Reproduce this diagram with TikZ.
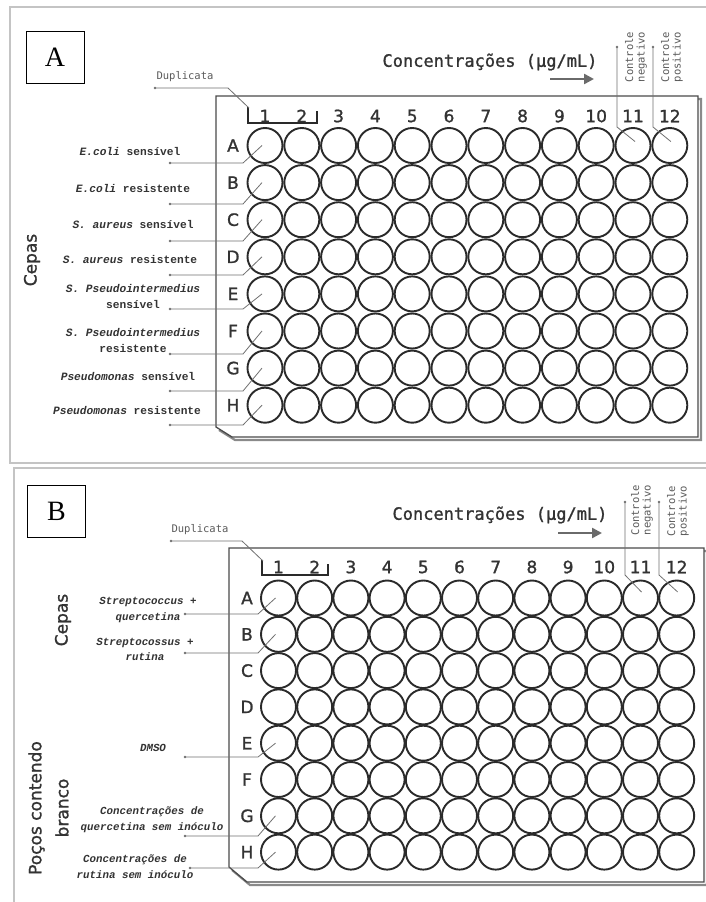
\documentclass[tikz,border=0pt]{standalone}
\usepackage{fontspec}
\setmainfont{Liberation Serif}
\setsansfont{DejaVu Sans}
\setmonofont{DejaVu Sans Mono}
\newfontfamily\lmono{Liberation Mono}
\newfontfamily\msans[BoldFont={DejaVu Sans}, BoldFeatures={FakeBold=1.2}]{DejaVu Sans}
\newfontfamily\mmono[BoldFont={DejaVu Sans Mono}, BoldFeatures={FakeBold=1.2}]{DejaVu Sans Mono}
\usetikzlibrary{calc,arrows.meta}
\definecolor{framegray}{HTML}{C4C4C4}
\definecolor{plategray}{HTML}{4A4A4A}
\definecolor{shadowgray}{HTML}{8A8A8A}
\definecolor{welldark}{HTML}{2A2A2A}
\definecolor{numdark}{HTML}{333333}
\definecolor{leadgray}{HTML}{707070}
\definecolor{labdark}{HTML}{333333}
\definecolor{midgray}{HTML}{5A5A5A}
\definecolor{arrowgray}{HTML}{6A6A6A}
\tikzset{
  frame/.style={draw=framegray, line width=1.6},
  labbox/.style={draw=black, line width=1, minimum width=58, minimum height=52, inner sep=0, font=\fontsize{28}{28}\selectfont},
  plate/.style={draw=plategray, line width=1.3, fill=white},
  plateshadow/.style={draw=shadowgray, line width=2.2},
  well/.style={circle, draw=welldark, line width=1.9, minimum size=35, inner sep=0},
  colnum/.style={font=\msans\bfseries\fontsize{17}{17}\selectfont, text=numdark, inner sep=0},
  leader/.style={draw=leadgray, line width=0.8},
  dotc/.style={circle, fill=leadgray, inner sep=0, minimum size=2.8},
  rowlab/.style={font=\lmono\bfseries\fontsize{11.2}{16}\selectfont, text=labdark, align=center, inner sep=0},
  rowlabB/.style={font=\lmono\bfseries\itshape\fontsize{10.8}{15.5}\selectfont, text=labdark, align=center, inner sep=0},
  smallmono/.style={font=\ttfamily\fontsize{10.5}{11.5}\selectfont, text=midgray, inner sep=0, align=center},
  bigmono/.style={font=\mmono\bfseries\fontsize{17}{17}\selectfont, text=numdark, inner sep=0},
  sidelab/.style={font=\msans\bfseries\fontsize{17}{27}\selectfont, rotate=90, align=center, inner sep=0, text=numdark},
  bracket/.style={draw=welldark, line width=1.8},
  concarrow/.style={draw=arrowgray, line width=2.4, -{Triangle[length=10,width=10]}}
}
\begin{document}
\begin{tikzpicture}[x=1pt,y=-1pt]
\useasboundingbox (0,0) rectangle (706,902);
\clip (0,0) rectangle (706,902);
\fill[white] (0,0) rectangle (706,902);
% ===== panel frames =====
\draw[frame] (10,7) rectangle (720,463);
\draw[frame] (14,468) rectangle (720,915);
\node[labbox] (labA) at (55,57) {A};
\node[labbox] (labB) at (56.5,511) {B};

% ===================== PANEL A =====================
\draw[plateshadow] (219,99) -- (701,99) -- (701,440) -- (235,440) -- (219,430);
\draw[plate] (216,96) -- (698,96) -- (698,437) -- (232,437) -- (216,427) -- cycle;
\foreach \c in {1,...,12}
  \node[colnum] (pa-col-\c) at ({265+36.8*(\c-1)},116) {\c};
\foreach \r/\l in {1/A,2/B,3/C,4/D,5/E,6/F,7/G,8/H}{
  \node[colnum] (pa-let-\l) at (233,{145.5+37.1*(\r-1)}) {\l};
  \foreach \c in {1,...,12}
    \node[well] (pa-\r-\c) at ({265+36.8*(\c-1)},{145.5+37.1*(\r-1)}) {};
}
% duplicata
\draw[bracket] (248,107) -- (248,123) -- (317,123) -- (317,111);
\coordinate (pa-brk) at (249,108);
\node[smallmono] (pa-dup) at (185,77) {Duplicata};
\node[dotc] (pa-dupdot) at (155,88) {};
\draw[leader] (pa-dupdot.center) -- (228,88) -- (pa-brk);
% concentrations
\node[bigmono] (pa-conc) at (490,62) {Concentrações (μg/mL)};
\coordinate (pa-arr1) at (550,79);
\coordinate (pa-arr2) at (594,79);
\draw[concarrow] (pa-arr1) -- (pa-arr2);
% controls
\node[smallmono, rotate=90] (pa-neg) at (636,57) {Controle\\negativo};
\node[smallmono, rotate=90] (pa-pos) at (672,57) {Controle\\positivo};
\node[dotc] (pa-negdot) at (617,47) {};
\node[dotc] (pa-posdot) at (653,47) {};
\draw[leader] (pa-negdot.center) -- (617,127) -- ($(pa-1-11.center)+(2,-4)$);
\draw[leader] (pa-posdot.center) -- (653,127) -- ($(pa-1-12.center)+(1,-4)$);
% row leaders
\foreach \r/\ly in {1/163,2/204,3/241,4/275,5/309,6/354,7/391,8/425}{
  \node[dotc] (pa-d-\r) at (170,\ly) {};
  \draw[leader] (pa-d-\r.center) -- (243,\ly) -- ($(pa-\r-1.center)+(-3,0)$);
}
\node[rowlab] (pa-l1) at (130,151) {\textit{E.coli} sensível};
\node[rowlab] (pa-l2) at (133,188) {\textit{E.coli} resistente};
\node[rowlab] (pa-l3) at (133,224) {\textit{S. aureus} sensível};
\node[rowlab] (pa-l4) at (130,259) {\textit{S. aureus} resistente};
\node[rowlab] (pa-l5) at (133,296.5) {\textit{S. Pseudointermedius}\\sensível};
\node[rowlab] (pa-l6) at (133,340) {\textit{S. Pseudointermedius}\\resistente};
\node[rowlab] (pa-l7) at (128,376) {\textit{Pseudomonas} sensível};
\node[rowlab] (pa-l8) at (127,410) {\textit{Pseudomonas} resistente};
\node[sidelab] (pa-cepas) at (32,260) {Cepas};

% ===================== PANEL B =====================
\draw[plateshadow] (232,551) -- (707,551) -- (707,885) -- (250,885) -- (232,870);
\draw[plate] (229,548) -- (704,548) -- (704,882) -- (247,882) -- (229,867) -- cycle;
\foreach \c in {1,...,12}
  \node[colnum] (pb-col-\c) at ({278.5+36.2*(\c-1)},567) {\c};
\foreach \r/\l in {1/A,2/B,3/C,4/D,5/E,6/F,7/G,8/H}{
  \node[colnum] (pb-let-\l) at (247,{598+36.3*(\r-1)}) {\l};
  \foreach \c in {1,...,12}
    \node[well] (pb-\r-\c) at ({278.5+36.2*(\c-1)},{598+36.3*(\r-1)}) {};
}
\draw[bracket] (262,560) -- (262,575) -- (328,575) -- (328,564);
\coordinate (pb-brk) at (263,561);
\node[smallmono] (pb-dup) at (200,530) {Duplicata};
\node[dotc] (pb-dupdot) at (171,541) {};
\draw[leader] (pb-dupdot.center) -- (242,541) -- (pb-brk);
\node[bigmono] (pb-conc) at (500,515) {Concentrações (μg/mL)};
\coordinate (pb-arr1) at (558,533);
\coordinate (pb-arr2) at (602,533);
\draw[concarrow] (pb-arr1) -- (pb-arr2);
\node[smallmono, rotate=90] (pb-neg) at (642,510) {Controle\\negativo};
\node[smallmono, rotate=90] (pb-pos) at (678,511) {Controle\\positivo};
\node[dotc] (pb-negdot) at (625,502) {};
\node[dotc] (pb-posdot) at (659,502) {};
\draw[leader] (pb-negdot.center) -- (625,575) -- ($(pb-1-11.center)+(1,-6)$);
\draw[leader] (pb-posdot.center) -- (659,575) -- ($(pb-1-12.center)+(1,-6)$);
\foreach \r/\ly/\dx in {1/614/185,2/653/185,5/757/185,7/836/185,8/868/190}{
  \node[dotc] (pb-d-\r) at (\dx,\ly) {};
  \draw[leader] (pb-d-\r.center) -- (258,\ly) -- ($(pb-\r-1.center)+(-3,0)$);
}
\node[rowlabB] (pb-l1) at (148,610) {Streptococcus +\\quercetina};
\node[rowlabB] (pb-l2) at (145,649.5) {Streptocossus +\\rutina};
\node[rowlabB] (pb-l5) at (153,748) {DMSO};
\node[rowlabB] (pb-l7) at (152,819.5) {Concentrações de\\quercetina sem inóculo};
\node[rowlabB] (pb-l8) at (135,866.5) {Concentrações de\\rutina sem inóculo};
\node[sidelab] (pb-cepas) at (63,620) {Cepas};
\node[sidelab] (pb-pocos) at (48.5,808) {Poços contendo\\branco};
\end{tikzpicture}
\end{document}
